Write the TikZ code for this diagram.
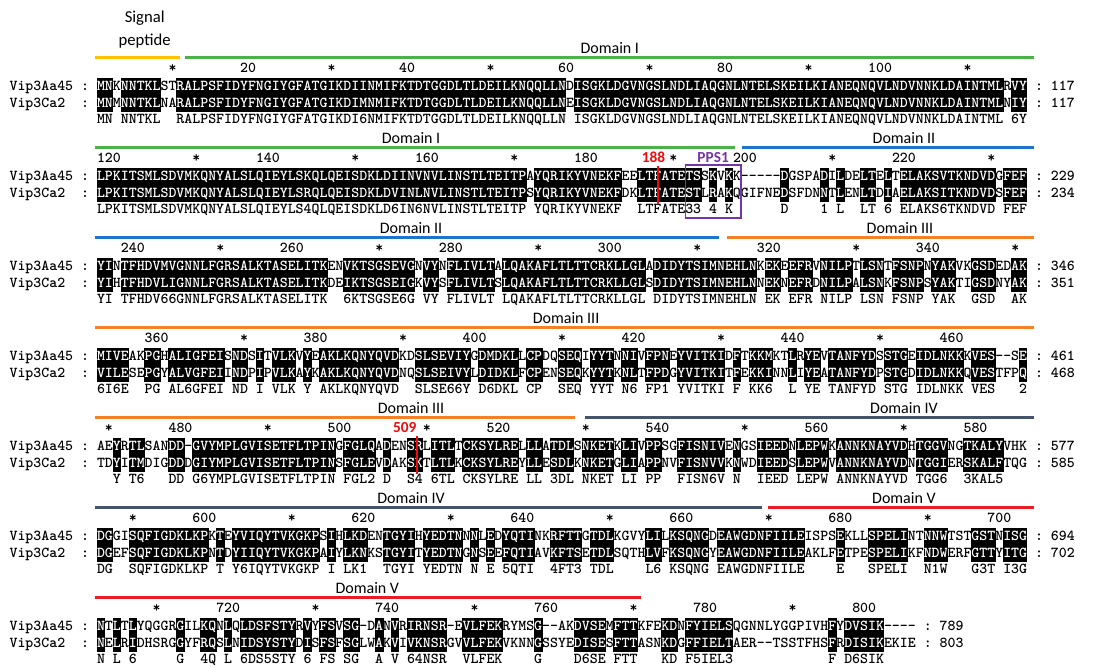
\documentclass[tikz,border=0pt]{standalone}
\usepackage{fontspec}
\newfontfamily\carl{Carlito}
\definecolor{cSig}{RGB}{255,192,0}
\definecolor{cDI}{RGB}{74,178,72}
\definecolor{cDII}{RGB}{30,116,204}
\definecolor{cDIII}{RGB}{245,128,37}
\definecolor{cDIV}{RGB}{68,84,106}
\definecolor{cDV}{RGB}{236,28,36}
\definecolor{cRed}{RGB}{240,12,12}
\definecolor{cPur}{RGB}{118,52,168}
\newcommand\seqf{\ttfamily\fontseries{b}\fontsize{11.357}{13}\selectfont}
\def\xo{97}
\def\cw{7.95}
\newcount\colcnt
\makeatletter
\def\shrow#1#2{\sh@step#1!\relax#2!\relax}
\def\sh@step#1#2\relax#3#4\relax{%
  \ifx!#1\expandafter\@gobble\else\expandafter\@firstofone\fi
  {\ifx~#3\hbox{\color{black}#1}\else\hbox{\color{white}#1}\fi\sh@step#2\relax#4\relax}}
\def\fillrow#1{\global\colcnt=0 \fl@step#1!}
\def\fl@step#1{%
  \ifx!#1\expandafter\@gobble\else\expandafter\@firstofone\fi
  {\global\advance\colcnt by 1\relax
   \ifx~#1\else\fill[black] ({\xo+(\the\colcnt-1)*\cw-0.3},\ytop) rectangle ({\xo+\the\colcnt*\cw+0.3},\ybot);\fi
   \fl@step}}
\makeatother
\tikzset{
  seq/.style={inner sep=0pt,outer sep=0pt,font=\seqf,text=black},
  dlab/.style={inner sep=0pt,anchor=base,font=\carl\fontsize{12}{14}\selectfont},
  dombarstyle/.style={line width=2.3pt},
  redlab/.style={inner sep=0pt,anchor=base,text=cRed,font=\carl\bfseries\fontsize{11.5}{13}\selectfont},
  purlab/.style={inner sep=0pt,anchor=base,text=cPur,font=\carl\bfseries\fontsize{11.5}{13}\selectfont},
  redline/.style={draw=cRed,line width=1.4pt},
  ppsbox/.style={draw=cPur,line width=1.1pt}
}
\newcommand\seqblock[8]{%
  \pgfmathsetmacro\yn{72.6+90*#1}%
  \pgfmathsetmacro\ya{90.6+90*#1}%
  \pgfmathsetmacro\yb{107.6+90*#1}%
  \pgfmathsetmacro\yc{123.6+90*#1}%
  \pgfmathsetmacro\ytop{\ya-12.5}%
  \pgfmathsetmacro\ybot{\yb+4}%
  \fillrow{#6}%
  \node[seq,anchor=base east] (la#1) at ({\xo-\cw},\ya) {Vip3Aa45~:};
  \node[seq,anchor=base east] (lc#1) at ({\xo-\cw},\yb) {Vip3Ca2~~:};
  \node[seq,anchor=base west] (sa#1) at (\xo,\ya) {\shrow{#4}{#6}};
  \node[seq,anchor=base west] (sc#1) at (\xo,\yb) {\shrow{#5}{#6}};
  \node[seq,anchor=base west] (cs#1) at (\xo,\yc) {#6};
  \node[seq,anchor=base west] (ra#1) at ({\xo+(#3+1)*\cw},\ya) {:~#7};
  \node[seq,anchor=base west] (rc#1) at ({\xo+(#3+1)*\cw},\yb) {:~#8};
  \foreach \c in {1,...,#3}{%
    \pgfmathtruncatemacro\pnum{#2+\c-1}%
    \pgfmathtruncatemacro\mA{mod(\pnum,20)}%
    \pgfmathtruncatemacro\mB{mod(\pnum,10)}%
    \ifnum\mA=0 \node[seq,anchor=base east] (nm#1-\c) at ({\xo+\c*\cw},\yn) {\pnum};%
    \else\ifnum\mB=0 \node[seq,anchor=base] (nm#1-\c) at ({\xo+(\c-0.5)*\cw},\yn) {*};\fi\fi}%
}
\newcommand\dombar[4]{\draw[dombarstyle,draw=#4] ({\xo+#2*\cw},{57.5+90*#1}) -- ({\xo+#3*\cw},{57.5+90*#1});}
\newcommand\domlab[4]{\node[dlab] (#4) at ({\xo+#2*\cw},{53.5+90*#1}) {#3};}
\begin{document}
\begin{tikzpicture}[x=0.75pt,y=-0.75pt]
\useasboundingbox (0,0) rectangle (1107,667);
\fill[white] (0,0) rectangle (1107,667);

\seqblock{0}{1}{117}
{MNKNNTKLSTRALPSFIDYFNGIYGFATGIKDIINMIFKTDTGGDLTLDEILKNQQLLNDISGKLDGVNGSLNDLIAQGNLNTELSKEILKIANEQNQVLNDVNNKLDAINTMLRVY}
{MNMNNTKLNARALPSFIDYFNGIYGFATGIKDIMNMIFKTDTGGDLTLDEILKNQQLLNEISGKLDGVNGSLNDLIAQGNLNTELSKEILKIANEQNQVLNDVNNKLDAINTMLNIY}
{MN~NNTKL~~RALPSFIDYFNGIYGFATGIKDI6NMIFKTDTGGDLTLDEILKNQQLLN~ISGKLDGVNGSLNDLIAQGNLNTELSKEILKIANEQNQVLNDVNNKLDAINTML~6Y}
{117}{117}

\seqblock{1}{118}{117}
{LPKITSMLSDVMKQNYALSLQIEYLSKQLQEISDKLDIINVNVLINSTLTEITPAYQRIKYVNEKFEELTFATETSSKVKK-----DGSPADILDELTELTELAKSVTKNDVDGFEF}
{LPKITSMLSDVMKQNYALSLQIEYLSRQLQEISDKLDVINLNVLINSTLTEITPSYQRIKYVNEKFDKLTFATESTLRAKQGIFNEDSFDNNTLENLTDIAELAKSITKNDVDSFEF}
{LPKITSMLSDVMKQNYALSLQIEYLS4QLQEISDKLD6IN6NVLINSTLTEITP~YQRIKYVNEKF~~LTFATE33~4~K~~~~~~D~~~~1~L~~LT~6~ELAKS6TKNDVD~FEF}
{229}{234}

\seqblock{2}{235}{117}
{YINTFHDVMVGNNLFGRSALKTASELITKENVKTSGSEVGNVYNFLIVLTALQAKAFLTLTTCRKLLGLADIDYTSIMNEHLNKEKEEFRVNILPTLSNTFSNPNYAKVKGSDEDAK}
{YIHTFHDVLIGNNLFGRSALKTASELITKDEIKTSGSEIGKVYSFLIVLTSLQAKAFLTLTTCRKLLGLSDIDYTSIMNEHLNNEKNEFRDNILPALSNKFSNPSYAKTIGSDNYAK}
{YI~TFHDV66GNNLFGRSALKTASELITK~~6KTSGSE6G~VY~FLIVLT~LQAKAFLTLTTCRKLLGL~DIDYTSIMNEHLN~EK~EFR~NILP~LSN~FSNP~YAK~~GSD~~AK}
{346}{351}

\seqblock{3}{352}{117}
{MIVEAKPGHALIGFEISNDSITVLKVYEAKLKQNYQVDKDSLSEVIYGDMDKLLCPDQSEQIYYTNNIVFPNEYVITKIDFTKKMKTLRYEVTANFYDSSTGEIDLNKKKVES--SE}
{VILESEPGYALVGFEIINDPIPVLKAYKAKLKQNYQVDNQSLSEIVYLDIDKLFCPENSEQKYYTKNLTFPDGYVITKITFEKKINNLIYEATANFYDPSTGDIDLNKKQVESTFPQ}
{6I6E~~PG~AL6GFEI~ND~I~VLK~Y~AKLKQNYQVD~~SLSE66Y~D6DKL~CP~~SEQ~YYT~N6~FP1~YVITKI~F~KK6~~L~YE~TANFYD~STG~IDLNKK~VES~~~2}
{461}{468}

\seqblock{4}{469}{117}
{AEYRTLSANDD-GVYMPLGVISETFLTPINGFGLQADENSRLITLTCKSYLRELLLATDLSNKETKLIVPPSGFISNIVENGSIEEDNLEPWKANNKNAYVDHTGGVNGTKALYVHK}
{TDYITMDIGDDDGIYMPLGVISETFLTPINSFGLEVDAKSKTLTLKCKSYLREYLLESDLKNKETGLIAPPNVFISNVVKNWDIEEDSLEPWVANNKNAYVDNTGGIERSKALFTQG}
{~~Y~T6~~~DD~G6YMPLGVISETFLTPIN~FGL2~D~~S4~6TL~CKSYLRE~LL~3DL~NKET~LI~PP~~FISN6V~N~~IEED~LEPW~ANNKNAYVD~TGG6~~3KAL5~~~}
{577}{585}

\seqblock{5}{586}{117}
{DGGISQFIGDKLKPKTEYVIQYTVKGKPSIHLKDENTGYIHYEDTNNNLEDYQTINKRFTTGTDLKGVYLILKSQNGDEAWGDNFIILEISPSEKLLSPELINTNNWTSTGSTNISG}
{DGEFSQFIGDKLKPNTDYIIQYTVKGKPAIYLKNKSTGYITYEDTNGNSEEFQTIAVKFTSETDLSQTHLVFKSQNGYEAWGDNFIILEAKLFETPESPELIKFNDWERFGTTYITG}
{DG~~SQFIGDKLKP~T~Y6IQYTVKGKP~I~LK1~~TGYI~YEDTN~N~E~5QTI~~4FT3~TDL~~~~L6~KSQNG~EAWGDNFIILE~~~~E~~~SPELI~~N1W~~~G3T~I3G}
{694}{702}

\seqblock{6}{703}{103}
{NTLTLYQGGRGILKQNLQLDSFSTYRVYFSVSG-DANVRIRNSR-EVLFEKRYMSG--AKDVSEMFTTKFEKDNFYIELSQGNNLYGGPIVHFYDVSIK----}
{NELRIDHSRGGYFRQSLNIDSYSTYDISFSFSGLWAKVIVKNSRGVVLFEKVKNNGSSYEDISESFTTASNKDGFFIELTAER--TSSTFHSFRDISIKEKIE}
{N~L~6~~~~~G~~4Q~L~6DS5STY~6~FS~SG~~A~V~64NSR~~VLFEK~~~~G~~~~D6SE~FTT~~~KD~F5IEL3~~~~~~~~~~~~F~D6SIK~~~~}
{789}{803}

% domain bars
\dombar{0}{-0.3}{10.45}{cSig}
\dombar{0}{11.1}{117.9}{cDI}
\dombar{1}{-0.3}{80.2}{cDI}
\dombar{1}{81.1}{117.9}{cDII}
\dombar{2}{-0.3}{78.3}{cDII}
\dombar{2}{79.3}{117.9}{cDIII}
\dombar{3}{-0.3}{117.9}{cDIII}
\dombar{4}{-0.3}{60.1}{cDIII}
\dombar{4}{61.4}{117.9}{cDIV}
\dombar{5}{-0.3}{83.6}{cDIV}
\dombar{5}{84.4}{117.9}{cDV}
\dombar{6}{-0.3}{68.4}{cDV}

% domain labels
\node[dlab,font=\carl\fontsize{12.5}{15}\selectfont] (sig1) at ({\xo+6*\cw},23) {Signal};
\node[dlab,font=\carl\fontsize{12.5}{15}\selectfont] (sig2) at ({\xo+6*\cw},46) {peptide};
\domlab{0}{64.5}{Domain I}{d0a}
\domlab{1}{39.5}{Domain I}{d1a}
\domlab{1}{101.5}{Domain II}{d1b}
\domlab{2}{39.5}{Domain II}{d2a}
\domlab{2}{101}{Domain III}{d2b}
\domlab{3}{59}{Domain III}{d3a}
\domlab{4}{39.5}{Domain III}{d4a}
\domlab{4}{101.5}{Domain IV}{d4b}
\domlab{5}{39.5}{Domain IV}{d5a}
\domlab{5}{101.5}{Domain V}{d5b}
\domlab{6}{34}{Domain V}{d6a}

% 188 and PPS1 (block 2)
\node[redlab] (l188) at ({\xo+70*\cw},162.6) {188};
\coordinate (r188a) at ({\xo+70.6*\cw},166);
\coordinate (r188b) at ({\xo+70.6*\cw},204);
\draw[redline] (r188a) -- (r188b);
\node[purlab] (lpps) at ({\xo+77.5*\cw},162.6) {PPS1};
\draw[ppsbox] ({\xo+74*\cw},165) rectangle ({\xo+81*\cw},218);

% 509 (block 5)
\node[redlab] (l509) at ({\xo+38.7*\cw},432.6) {509};
\coordinate (r509a) at ({\xo+40.2*\cw},436);
\coordinate (r509b) at ({\xo+40.2*\cw},474);
\draw[redline] (r509a) -- (r509b);
\end{tikzpicture}
\end{document}
